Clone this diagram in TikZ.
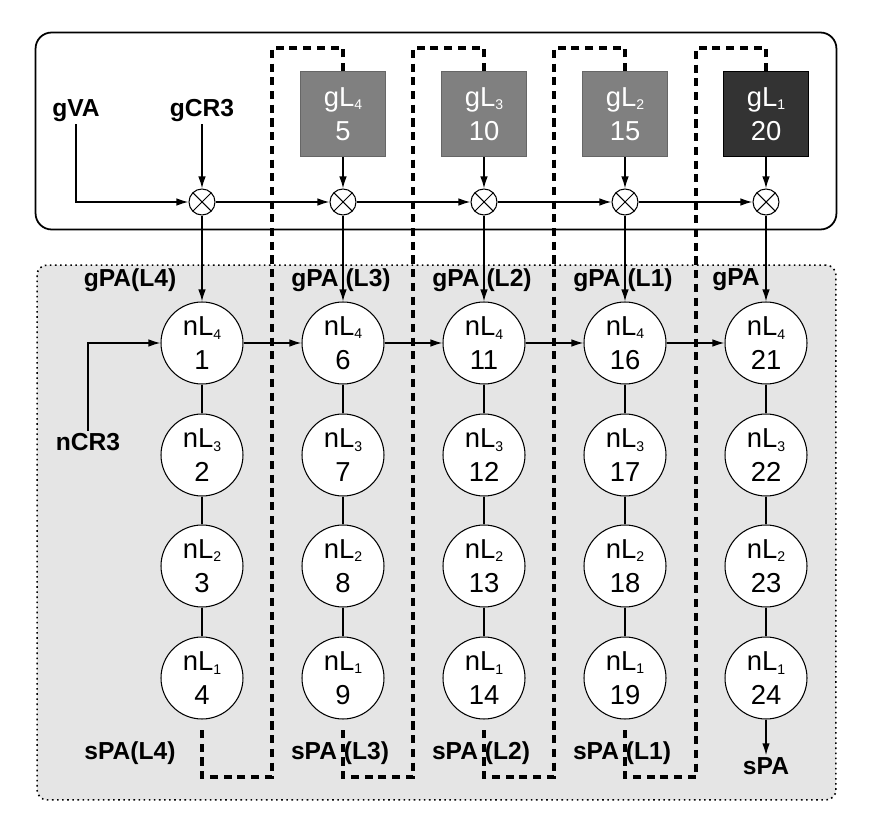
\documentclass[tikz,border=0pt]{standalone}
\usepackage{fontspec}
\setmainfont{Liberation Sans}
\usetikzlibrary{positioning, arrows.meta}
\tikzset{
  nl/.style={circle, draw, line width=0.6pt, fill=white, minimum size=1.64cm,
    inner sep=0pt, align=center, font=\cfont},
  gl/.style={rectangle, draw=black!60, line width=0.6pt, fill=black!50, minimum size=1.7cm,
    inner sep=0pt, align=center, text=white, font=\cfont},
  mul/.style={circle, draw, line width=0.6pt, fill=white, minimum size=0.52cm, inner sep=0pt,
    path picture={\draw[line width=0.6pt]
      (path picture bounding box.north west) -- (path picture bounding box.south east)
      (path picture bounding box.north east) -- (path picture bounding box.south west);}},
  lbl/.style={font=\lfont, inner sep=1pt},
  arr/.style={line width=0.8pt, -{Latex[length=2.4mm, width=1.5mm]}},
  ln/.style={line width=0.6pt},
  dsh/.style={line width=2.2pt, dash pattern=on 4.6pt off 3.2pt},
}
\newcommand{\cfont}{\fontsize{15.6}{19.3}\selectfont}
\newcommand{\lfont}{\fontsize{14}{16}\selectfont\bfseries}
\newcommand{\lsub}[1]{\raisebox{-0.25ex}{\fontsize{8}{8}\selectfont #1}}

\begin{document}
\begin{tikzpicture}[x=0.02cm, y=-0.02cm]
\useasboundingbox (0,0) rectangle (869,827);

% ── Marcos ──────────────────────────────────────────────────
\node[draw, line width=1pt, rounded corners=0.32cm, minimum width=16.02cm,
  minimum height=3.94cm] (gframe) at (436,131) {};
\node[draw, line width=0.9pt, dash pattern=on 0.9pt off 2pt, fill=black!10,
  rounded corners=0.2cm, minimum width=15.98cm, minimum height=10.7cm] (nframe) at (436.5,532.5) {};

% ── Columnas: multiplicadores y niveles ─────────────────────
\foreach \col/\x in {1/202, 2/343, 3/484, 4/625, 5/766} {
  \node[mul] (m\col) at (\x,202) {};
  \foreach \row/\y in {1/343, 2/455, 3/566, 4/678} {
    \pgfmathtruncatemacro{\lv}{5-\row}
    \pgfmathtruncatemacro{\num}{5*(\col-1)+\row}
    \node[nl] (n\col\row) at (\x,\y) {nL\lsub{\lv}\\\num};
  }
}

% ── Niveles del huesped ─────────────────────────────────────
\node[gl] (g2) at (343,114) {gL\lsub{4}\\5};
\node[gl] (g3) at (484,114) {gL\lsub{3}\\10};
\node[gl] (g4) at (625,114) {gL\lsub{2}\\15};
\node[gl, fill=black!80, draw=black] (g5) at (766,114) {gL\lsub{1}\\20};

% ── Etiquetas ───────────────────────────────────────────────
\node[lbl] (gva) at (76,111) {gVA};
\node[lbl] (gcr) at (202,111) {gCR3};
\node[lbl] (ncr) at (88,442) {nCR3};
\node[lbl] (gpa1) at (130,280) {gPA(L4)};
\node[lbl] (gpa2) at (341,280) {gPA (L3)};
\node[lbl] (gpa3) at (482,280) {gPA (L2)};
\node[lbl] (gpa4) at (623,280) {gPA (L1)};
\node[lbl] (gpa5) at (736,280) {gPA};
\node[lbl] (spa1) at (130,753) {sPA(L4)};
\node[lbl] (spa2) at (340,753) {sPA (L3)};
\node[lbl] (spa3) at (481,753) {sPA (L2)};
\node[lbl] (spa4) at (622,753) {sPA (L1)};
\node[lbl] (spa5) at (766,766) {sPA};

% ── Conexiones ──────────────────────────────────────────────
\draw[arr] (gva.south) |- (m1.west);
\draw[arr] (gcr.south) -- (m1.north);
\draw[arr] (ncr.north) |- (n11.west);
\foreach \col in {2,...,5} {
  \draw[arr] (g\col.south) -- (m\col.north);
}
\foreach \p/\col in {1/2, 2/3, 3/4, 4/5} {
  \draw[arr] (m\p.east) -- (m\col.west);
  \draw[arr] (n\p1.east) -- (n\col1.west);
}
\foreach \col in {1,...,5} {
  \draw[arr] (m\col.south) -- (n\col1.north);
  \draw[ln] (n\col1.south) -- (n\col2.north);
  \draw[ln] (n\col2.south) -- (n\col3.north);
  \draw[ln] (n\col3.south) -- (n\col4.north);
}
\draw[arr] (n54.south) -- (spa5.north);

% Lazos punteados entre columnas
\foreach \p/\col/\xm in {1/2/272, 2/3/413, 3/4/554, 4/5/696} {
  \draw[dsh] (g\col.north) -- ++(0,-23) -| (\xm,777) -| ([yshift=-0.16cm]n\p4.south);
}

\end{tikzpicture}
\end{document}
